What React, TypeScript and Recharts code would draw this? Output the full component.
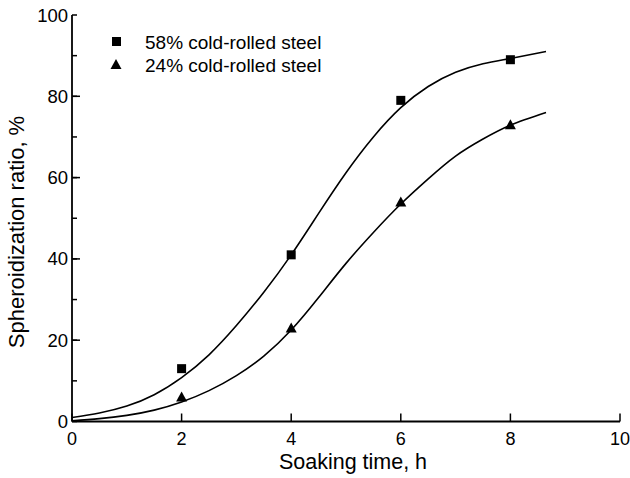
import React from 'react';
import {
  ComposedChart,
  Line,
  Scatter,
  XAxis,
  YAxis,
  Legend,
} from 'recharts';

// Measured points
const markerTimes = [2, 4, 6, 8];
const ratio58 = [13, 41, 79, 89];
const ratio24 = [6, 23, 54, 73];

// Fitted curves
const fitTimes = [0, 0.5, 1, 1.5, 2, 2.5, 3, 3.5, 4, 4.5, 5, 5.5, 6, 6.5, 7, 7.5, 8, 8.65];
const fit58 = [1.0, 2.1, 3.8, 6.6, 10.8, 16.4, 23.6, 31.8, 41.0, 51.2, 61.2, 70.0, 77.2, 82.4, 85.9, 88.0, 89.3, 91.0];
const fit24 = [0.2, 0.7, 1.5, 2.8, 4.8, 7.6, 11.3, 16.1, 22.5, 30.5, 38.9, 46.5, 53.5, 59.7, 65.3, 69.5, 72.9, 76.0];

// Axis ticks
const xTicks = [0, 2, 4, 6, 8, 10];
const yTicks = [0, 10, 20, 30, 40, 50, 60, 70, 80, 90, 100];

const seriesNames = ['58% cold-rolled steel', '24% cold-rolled steel'];
const xTitle = 'Soaking time, h';
const yTitle = 'Spheroidization ratio, %';

const FONT = '"Liberation Sans", Arial, Helvetica, sans-serif';

const pts58 = markerTimes.map((t, i) => ({ t, v: ratio58[i] }));
const pts24 = markerTimes.map((t, i) => ({ t, v: ratio24[i] }));
const curve58 = fitTimes.map((t, i) => ({ t, v: fit58[i] }));
const curve24 = fitTimes.map((t, i) => ({ t, v: fit24[i] }));

const XTick = (props: any) => {
  const { x, y, payload } = props;
  return (
    <text x={x} y={y} dy="0.71em" textAnchor="middle" fontSize={18} fontFamily={FONT} fill="#000">
      {payload.value}
    </text>
  );
};

// Y tick: built-in tick line is 5px (minor length); majors get an 8px line here.
const YTick = (props: any) => {
  const { x, y, payload } = props;
  const v = Number(payload.value);
  const major = v % 20 === 0;
  const axisX = x + 4;
  return (
    <g>
      {major && v !== 0 && v !== 100 && (
        <path d={`M${axisX},${y}H${axisX + 8}`} stroke="#000" strokeWidth={1.5} fill="none" />
      )}
      {major && (
        <text x={x} y={y} dy="0.355em" textAnchor="end" fontSize={18.5} fontFamily={FONT} fill="#000">
          {v}
        </text>
      )}
    </g>
  );
};

const Square = (props: any) => {
  const { cx, cy } = props;
  if (cx == null || cy == null) return null;
  return <rect x={cx - 4.5} y={cy - 4.5} width={9} height={9} fill="#000" />;
};

const Triangle = (props: any) => {
  const { cx, cy } = props;
  if (cx == null || cy == null) return null;
  return <polygon points={`${cx - 5.5},${cy + 4.5} ${cx + 5.5},${cy + 4.5} ${cx},${cy - 5.5}`} fill="#000" />;
};

const LegendContent = () => (
  <svg width={260} height={56} style={{ display: 'block' }}>
    <rect x={12} y={9} width={9} height={9} fill="#000" />
    <text x={45} y={21} fontSize={19} fontFamily={FONT} fill="#000">
      {seriesNames[0]}
    </text>
    <polygon points="10.5,41 21.5,41 16,31" fill="#000" />
    <text x={45} y={44} fontSize={19} fontFamily={FONT} fill="#000">
      {seriesNames[1]}
    </text>
  </svg>
);

export default function App() {
  return (
    <div style={{ position: 'absolute', left: 0, top: 0, background: '#fff' }}>
      <ComposedChart
        width={630}
        height={478}
        margin={{ top: 15, right: 10, bottom: 0, left: 0 }}
        style={{ fontFamily: FONT }}
      >
        <XAxis
          dataKey="t"
          type="number"
          domain={[0, 10]}
          ticks={xTicks}
          interval={0}
          height={56.5}
          tickSize={-8}
          tickMargin={19}
          tickLine={{ stroke: '#000', strokeWidth: 1.5 }}
          axisLine={{ stroke: '#000', strokeWidth: 1.8 }}
          tick={<XTick />}
          allowDataOverflow
          label={{
            content: (p: any) => {
              const vb = p.viewBox;
              return (
                <text x={353} y={vb.y + 47} textAnchor="middle" fontSize={21.5} fontFamily={FONT} fill="#000">
                  {xTitle}
                </text>
              );
            },
          }}
        />
        <XAxis
          xAxisId="top"
          orientation="top"
          dataKey="t"
          type="number"
          domain={[0, 10]}
          height={0}
          tick={false}
          tickLine={false}
          axisLine={{ stroke: '#000', strokeWidth: 1.8 }}
        />
        <YAxis
          type="number"
          domain={[0, 100]}
          ticks={yTicks}
          interval={0}
          width={72}
          tickSize={-5}
          tickMargin={9}
          tickLine={{ stroke: '#000', strokeWidth: 1.5 }}
          axisLine={{ stroke: '#000', strokeWidth: 1.8 }}
          tick={<YTick />}
          allowDataOverflow
          label={{
            content: () => (
              <text
                x={23.5}
                y={232}
                transform="rotate(-90 23.5 232)"
                textAnchor="middle"
                fontSize={22}
                fontFamily={FONT}
                fill="#000"
              >
                {yTitle}
              </text>
            ),
          }}
        />
        <YAxis
          yAxisId="right"
          orientation="right"
          type="number"
          domain={[0, 100]}
          width={0}
          tick={false}
          tickLine={false}
          axisLine={{ stroke: '#000', strokeWidth: 1.8 }}
        />
        <Legend
          layout="vertical"
          align="center"
          verticalAlign="middle"
          content={<LegendContent />}
          wrapperStyle={{ position: 'absolute', left: 100, top: 28, width: 260, height: 56 }}
        />
        <Line
          data={curve58}
          dataKey="v"
          type="natural"
          stroke="#000"
          strokeWidth={1.6}
          dot={false}
          activeDot={false}
          isAnimationActive={false}
          legendType="none"
        />
        <Line
          data={curve24}
          dataKey="v"
          type="natural"
          stroke="#000"
          strokeWidth={1.6}
          dot={false}
          activeDot={false}
          isAnimationActive={false}
          legendType="none"
        />
        <Scatter data={pts58} dataKey="v" name={seriesNames[0]} shape={<Square />} isAnimationActive={false} />
        <Scatter data={pts24} dataKey="v" name={seriesNames[1]} shape={<Triangle />} isAnimationActive={false} />
      </ComposedChart>
    </div>
  );
}
